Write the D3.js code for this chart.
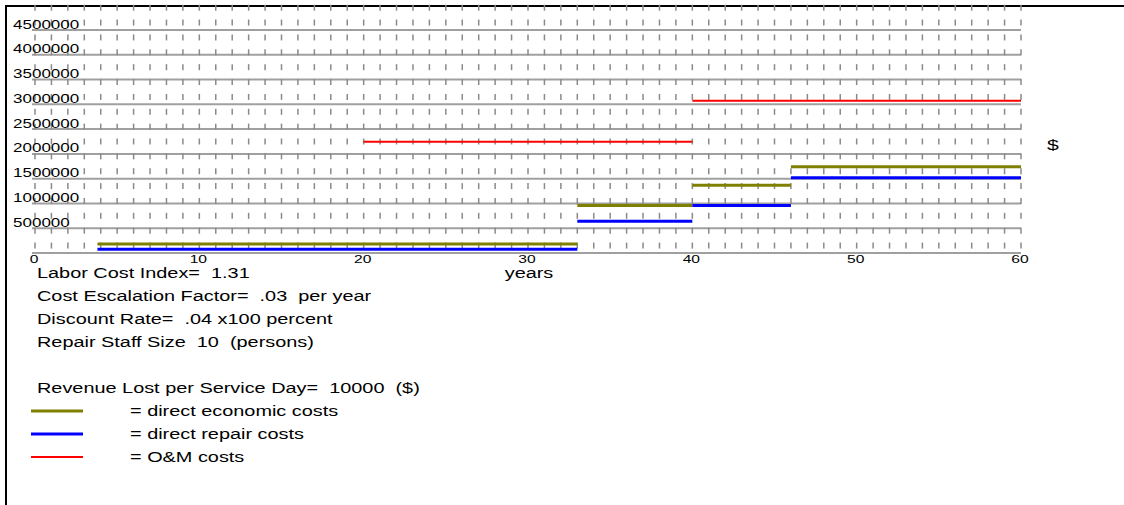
<!DOCTYPE html>
<html>
<head>
<meta charset="utf-8">
<script src="https://cdn.jsdelivr.net/npm/d3@7"></script>
<style>
  html, body { margin: 0; padding: 0; background: #fff; }
  svg { display: block; }
  text { font-family: "Liberation Sans", Arial, sans-serif; fill: #000; white-space: pre; }
</style>
</head>
<body>
<svg id="chart" width="1124" height="505"></svg>
<script>
// ---- data ----
const xTickValues = [0, 10, 20, 30, 40, 50, 60];
const yTickValues = [500000, 1000000, 1500000, 2000000, 2500000, 3000000, 3500000, 4000000, 4500000];
const yTickLabels = ["500000", "1000000", "1500000", "2000000", "2500000", "3000000", "3500000", "4000000", "4500000"];

const economicStart = [3.8, 33, 40, 46];
const economicEnd = [33, 40, 46, 60];
const economicValues = [180000, 960000, 1365000, 1740000];

const repairStart = [3.8, 33, 40, 46];
const repairEnd = [33, 40, 46, 60];
const repairValues = [75000, 640000, 960000, 1520000];

const omStart = [20, 40];
const omEnd = [40, 60];
const omValues = [2245000, 3070000];

const infoLines = [
  "Labor Cost Index=  1.31",
  "Cost Escalation Factor=  .03  per year",
  "Discount Rate=  .04 x100 percent",
  "Repair Staff Size  10  (persons)",
  "",
  "Revenue Lost per Service Day=  10000  ($)"
];
const legendLabels = ["= direct economic costs", "= direct repair costs", "= O&M costs"];
const legendColors = ["#808000", "#0000ff", "#ff0000"];

// ---- layout ----
const svg = d3.select("#chart");
const x = d3.scaleLinear().domain([0, 60]).range([35, 1021]);
const y = d3.scaleLinear().domain([0, 4500000]).range([253, 30]);
const SX = 1.42; // horizontal stretch of the original raster text
const LINE = 23;
const TOP = 278;

function stretchedText(g, tx, ty, str, size, anchor) {
  return g.append("text")
    .attr("xml:space", "preserve")
    .attr("transform", `translate(${tx},${ty}) scale(${SX},1)`)
    .attr("font-size", size)
    .attr("text-anchor", anchor || "start")
    .text(str);
}

// frame
svg.append("line").attr("x1", 5).attr("x2", 1124).attr("y1", 6).attr("y2", 6)
  .attr("stroke", "#000").attr("stroke-width", 2);
svg.append("line").attr("x1", 6).attr("x2", 6).attr("y1", 5).attr("y2", 505)
  .attr("stroke", "#000").attr("stroke-width", 2);

// grid lines every 500000 (including 0)
const gridVals = [0].concat(yTickValues);
svg.append("g").selectAll("line").data(gridVals).join("line")
  .attr("x1", x(0) - 3).attr("x2", x(60))
  .attr("y1", d => y(d)).attr("y2", d => y(d))
  .attr("stroke", "#a0a0a0").attr("stroke-width", 2);

// rows of small vertical tick marks
const tickRowValues = d3.range(150000, 5000000, 300000);
const yearTicks = d3.range(0, 61, 1);
const tickG = svg.append("g");
tickRowValues.forEach(v => {
  tickG.selectAll(null).data(yearTicks).join("line")
    .attr("x1", d => x(d)).attr("x2", d => x(d))
    .attr("y1", y(v) - 3).attr("y2", y(v) + 3)
    .attr("stroke", "#8a8a8a").attr("stroke-width", 1.5);
});

// y labels
const yl = svg.append("g");
yTickValues.forEach((v, i) => stretchedText(yl, 13, y(v) - 1.5, yTickLabels[i], 12, "start"));

// x labels
const xl = svg.append("g");
xTickValues.forEach(v => stretchedText(xl, x(v) - 1, 263, String(v), 11, "middle"));

// segments
function drawSeries(starts, ends, vals, color, width) {
  svg.append("g").selectAll("line").data(vals).join("line")
    .attr("x1", (d, i) => x(starts[i])).attr("x2", (d, i) => x(ends[i]))
    .attr("y1", d => y(d)).attr("y2", d => y(d))
    .attr("stroke", color).attr("stroke-width", width);
}
drawSeries(omStart, omEnd, omValues, legendColors[2], 2);
drawSeries(economicStart, economicEnd, economicValues, legendColors[0], 3);
drawSeries(repairStart, repairEnd, repairValues, legendColors[1], 3);

// $ unit
stretchedText(svg, 1053, 150, "$", 15, "middle");

// axis title
stretchedText(svg, 529, TOP, "years", 14, "middle");

// info text
const info = svg.append("g");
infoLines.forEach((t, i) => { if (t) stretchedText(info, 37, TOP + i * LINE, t, 14, "start"); });

// legend
const lg = svg.append("g");
legendLabels.forEach((t, i) => {
  const by = TOP + (infoLines.length + i) * LINE;
  const ly = by - 5;
  lg.append("line").attr("x1", 31).attr("x2", 83).attr("y1", ly).attr("y2", ly)
    .attr("stroke", legendColors[i]).attr("stroke-width", i === 2 ? 1.8 : 3);
  stretchedText(lg, 130, by, t, 14, "start");
});
</script>
</body>
</html>
